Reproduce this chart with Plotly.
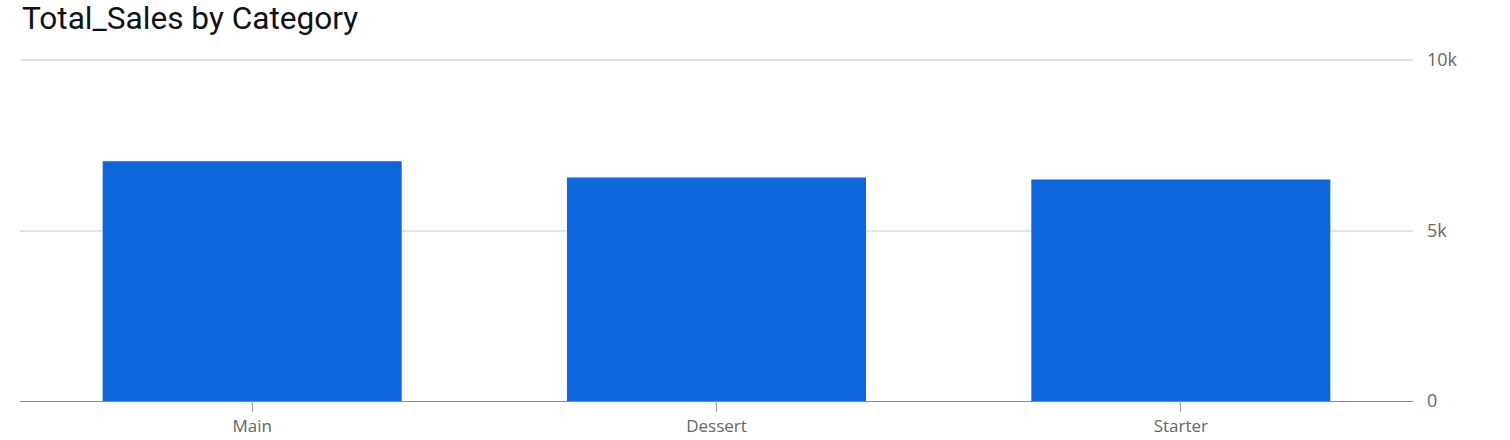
import plotly.graph_objects as go

categories = ["Main", "Dessert", "Starter"]
total_sales = [7028, 6558, 6499]
y_tick_vals = [0, 5000, 10000]
y_tick_text = ["0", "5k", "10k"]

fig = go.Figure(go.Bar(
    x=categories, y=total_sales,
    marker=dict(color="#0E66DC", line=dict(width=0)),
    hoverinfo="x+y",
))

fig.update_layout(
    width=1510, height=440,
    margin=dict(l=20, r=97, t=59, b=39),
    paper_bgcolor="white", plot_bgcolor="white",
    bargap=0.356,
    showlegend=False,
    title=dict(text="Total_Sales by Category", x=22 / 1510, xref="container", xanchor="left",
               y=1 - 18 / 440, yref="container", yanchor="middle",
               font=dict(family="Roboto", size=31.6, color="#111111")),
    font=dict(family="Open Sans", size=17, color="#666666"),
)
fig.update_xaxes(
    automargin=False,
    showgrid=False, showline=True, linecolor="#8a8a8a", linewidth=1,
    ticks="outside", ticklen=10, tickcolor="#9a9a9a",
    tickfont=dict(family="Open Sans", size=17, color="#666666"),
    zeroline=False,
)
fig.update_yaxes(
    automargin=False,
    side="right", range=[0, 10030],
    tickvals=y_tick_vals, ticktext=y_tick_text,
    showgrid=True, gridcolor="#e3e3e3", gridwidth=2,
    zeroline=False, showline=False,
    ticks="", ticklabelstandoff=13,
    tickfont=dict(family="Open Sans", size=18, color="#666666"),
)

fig.write_html(
    "out.html",
    config={"displayModeBar": False},
    post_script="document.body.style.margin='0';document.body.style.overflow='hidden';",
)
